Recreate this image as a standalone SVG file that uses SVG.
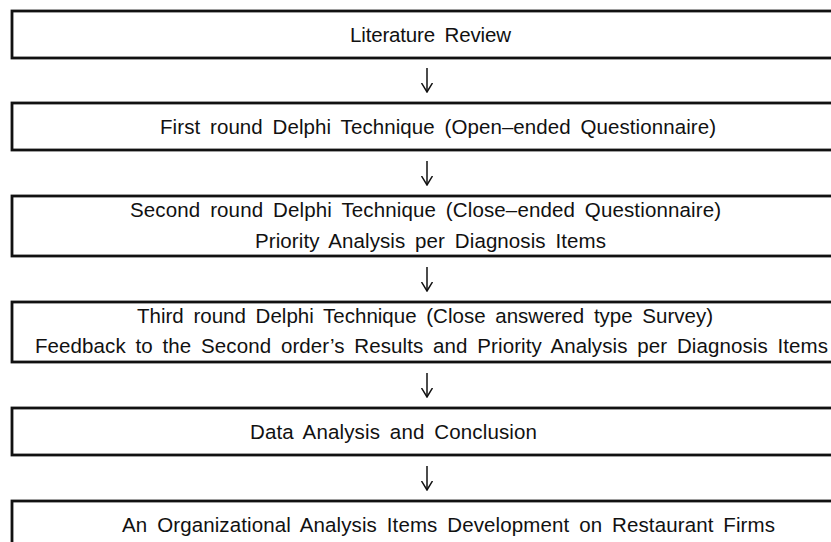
<svg xmlns="http://www.w3.org/2000/svg" width="831" height="542" viewBox="0 0 831 542">
  <style>
    .box { fill: #ffffff; stroke: #111111; stroke-width: 2.8; }
    .lbl { font-family: "Liberation Sans", Arial, sans-serif; font-size: 20.5px; fill: #111111; word-spacing: 4px; }
    .flow { fill: none; stroke: #111111; stroke-width: 1.5; }
  </style>
  <defs>
    <!-- open V head, drawn along +x so orient="auto" points it down the shaft -->
    <marker id="head" viewBox="0 0 10 12" refX="9.5" refY="6" markerWidth="10" markerHeight="12" markerUnits="userSpaceOnUse" orient="auto">
      <path d="M0.5,0.5 L9.5,6 L0.5,11.5" fill="none" stroke="#111111" stroke-width="1.5"/>
    </marker>
  </defs>
  <rect width="831" height="542" fill="#ffffff"/>

  <g id="literature-review">
    <rect class="box" x="12" y="11" width="840" height="47"/>
    <text class="lbl" x="350" y="42" textLength="161" lengthAdjust="spacing">Literature Review</text>
  </g>

  <g id="first-round">
    <rect class="box" x="12" y="103" width="840" height="47"/>
    <text class="lbl" x="160" y="134" textLength="556" lengthAdjust="spacing">First round Delphi Technique (Open–ended Questionnaire)</text>
  </g>

  <g id="second-round">
    <rect class="box" x="12" y="196" width="840" height="60"/>
    <text class="lbl" x="130" y="217" textLength="591" lengthAdjust="spacing">Second round Delphi Technique (Close–ended Questionnaire)</text>
    <text class="lbl" x="255" y="248" textLength="351" lengthAdjust="spacing">Priority Analysis per Diagnosis Items</text>
  </g>

  <g id="third-round">
    <rect class="box" x="12" y="302" width="840" height="60"/>
    <text class="lbl" x="137" y="323" textLength="576" lengthAdjust="spacing">Third round Delphi Technique (Close answered type Survey)</text>
    <text class="lbl" x="35" y="353" textLength="793" lengthAdjust="spacing">Feedback to the Second order’s Results and Priority Analysis per Diagnosis Items</text>
  </g>

  <g id="data-analysis">
    <rect class="box" x="12" y="408" width="840" height="47"/>
    <text class="lbl" x="250" y="439" textLength="287" lengthAdjust="spacing">Data Analysis and Conclusion</text>
  </g>

  <g id="items-development">
    <rect class="box" x="12" y="501" width="840" height="60"/>
    <text class="lbl" x="122" y="532" textLength="653" lengthAdjust="spacing">An Organizational Analysis Items Development on Restaurant Firms</text>
  </g>

  <g id="connectors">
    <path class="flow" d="M427,68 V92" marker-end="url(#head)"/>
    <path class="flow" d="M427,161 V185" marker-end="url(#head)"/>
    <path class="flow" d="M427,267 V291" marker-end="url(#head)"/>
    <path class="flow" d="M427,373 V397" marker-end="url(#head)"/>
    <path class="flow" d="M427,466 V490" marker-end="url(#head)"/>
  </g>
</svg>
